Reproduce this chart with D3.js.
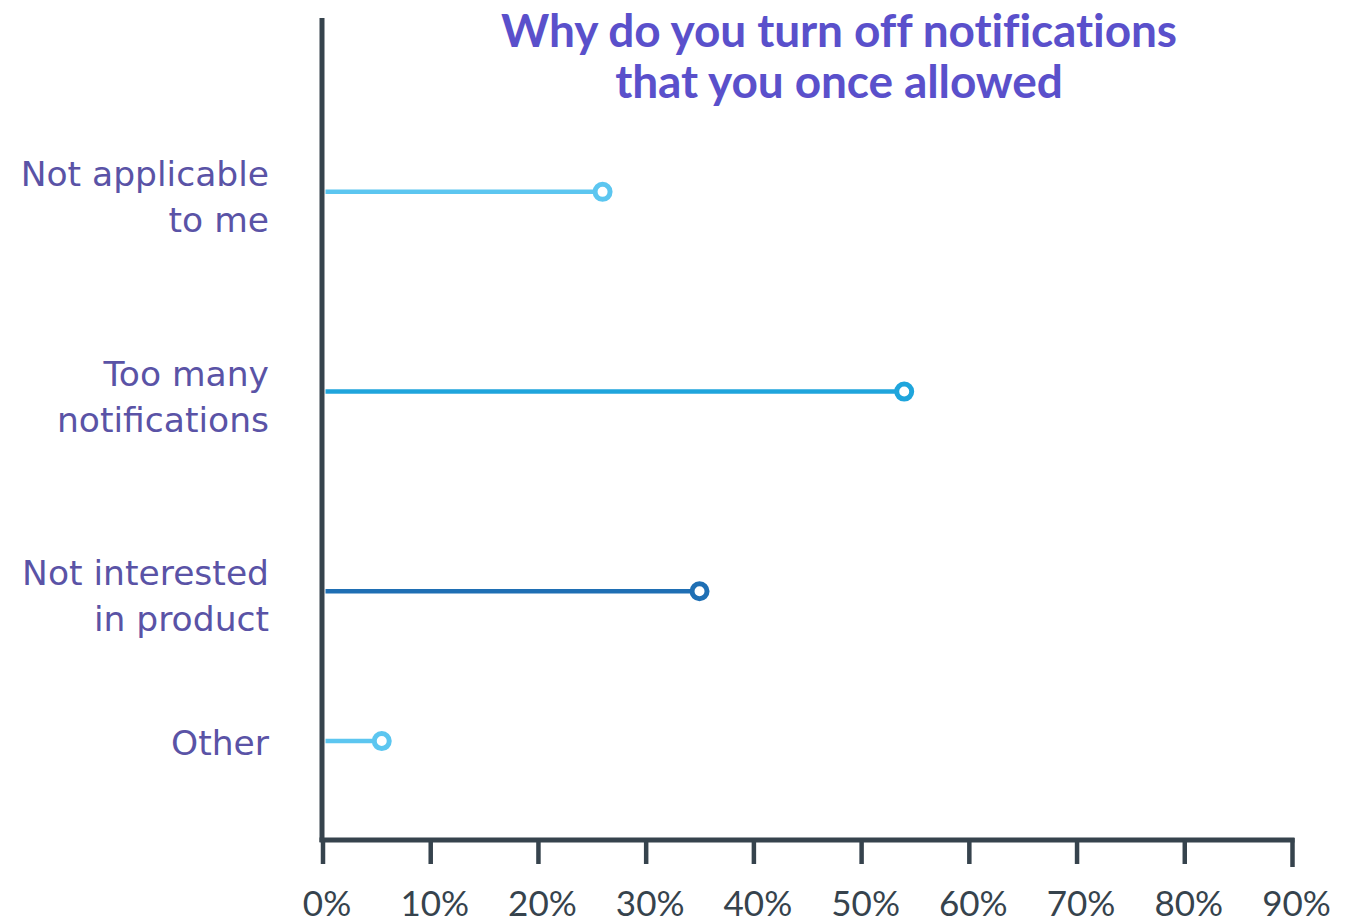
<!DOCTYPE html>
<html>
<head>
<meta charset="utf-8">
<script src="https://cdn.jsdelivr.net/npm/d3@7"></script>
<style>
  html, body { margin: 0; padding: 0; background: #ffffff; }
  svg { display: block; font-family: Lato, "Open Sans", sans-serif; }
</style>
</head>
<body>
<svg id="chart" width="1356" height="924"></svg>
<script>
// Survey answers, top to bottom
const categories = ["Not applicable to me", "Too many notifications", "Not interested in product", "Other"];
const labelLines = [["Not applicable", "to me"], ["Too many", "notifications"], ["Not interested", "in product"], ["Other"]];
const values = [26, 54, 35, 5.5];           // share of respondents, %
const tickValues = [0, 10, 20, 30, 40, 50, 60, 70, 80, 90];
const titleLines = ["Why do you turn off notifications", "that you once allowed"];

// Styling
const seriesColors = ["#5cc6f0", "#1fa5dc", "#1f6fb4", "#5cc6f0"];
const axisColor = "#36434d";
const labelColor = "#5a53a6";
const titleColor = "#5a50cb";
const labelFont = "'DejaVu Sans', 'Open Sans', sans-serif";
const tickFont = "Lato, 'Open Sans', sans-serif";

const svg = d3.select("#chart");
const plot = { left: 322.5, right: 1292, top: 18, bottom: 840 };

// Horizontal value scale
const x = d3.scaleLinear().domain([0, 90]).range([plot.left, plot.right]);

// Each row gets vertical room proportional to the number of lines in its label
const slotStart = [];
let acc = 0;
labelLines.forEach(l => { slotStart.push(acc); acc += l.length; });
const rowCenter = labelLines.map((l, i) => slotStart[i] + l.length / 2);
const y = d3.scaleLinear().domain([0, acc]).range([92, 791]);

// Title
const title = svg.append("text")
  .attr("x", 839)
  .attr("y", 47)
  .attr("text-anchor", "middle")
  .attr("fill", titleColor)
  .attr("font-weight", 700)
  .attr("font-size", 46)
  .style("letter-spacing", "-0.1px");
title.selectAll("tspan").data(titleLines).join("tspan")
  .attr("x", 839)
  .attr("dy", (d, i) => i === 0 ? 0 : 51)
  .text(d => d);

// Lollipop stems and heads
const rows = categories.map((c, i) => ({ c, v: values[i], lines: labelLines[i], cy: y(rowCenter[i]), color: seriesColors[i] }));

svg.append("g").selectAll("line").data(rows).join("line")
  .attr("x1", x(0) + 3)
  .attr("x2", d => x(d.v))
  .attr("y1", d => d.cy)
  .attr("y2", d => d.cy)
  .attr("stroke", d => d.color)
  .attr("stroke-width", 4.5);

svg.append("g").selectAll("circle").data(rows).join("circle")
  .attr("cx", d => x(d.v))
  .attr("cy", d => d.cy)
  .attr("r", 7.5)
  .attr("fill", "#ffffff")
  .attr("stroke", d => d.color)
  .attr("stroke-width", 5);

// Category labels
const labels = svg.append("g").selectAll("text").data(rows).join("text")
  .attr("x", 269)
  .attr("y", d => d.cy + 14 - (d.lines.length - 1) * 20)
  .attr("text-anchor", "end")
  .attr("fill", labelColor)
  .attr("font-family", labelFont)
  .attr("font-size", 34.5);
labels.selectAll("tspan").data(d => d.lines).join("tspan")
  .attr("x", 269)
  .attr("dy", (d, i) => i === 0 ? 0 : 46)
  .text(d => d);

// Vertical axis line
svg.append("line")
  .attr("x1", plot.left - 0.5).attr("x2", plot.left - 0.5)
  .attr("y1", plot.top).attr("y2", plot.bottom + 2)
  .attr("stroke", axisColor)
  .attr("stroke-width", 5);

// Horizontal axis
const xAxis = d3.axisBottom(x)
  .tickValues(tickValues)
  .tickFormat(d => d + "%")
  .tickSize(24)
  .tickSizeOuter(0);

const gx = svg.append("g")
  .attr("transform", `translate(0,${plot.bottom})`)
  .call(xAxis);

gx.select(".domain")
  .attr("stroke", axisColor)
  .attr("stroke-width", 5)
  .attr("d", `M${plot.left - 3},0H${plot.right + 2.5}`);
gx.selectAll(".tick line")
  .attr("stroke", axisColor)
  .attr("stroke-width", 4.5);
gx.selectAll(".tick line").filter(d => d === 90).attr("y1", -2).attr("y2", 27);
gx.selectAll(".tick text")
  .attr("fill", axisColor)
  .attr("font-size", 35)
  .attr("font-family", tickFont)
  .attr("y", 76)
  .attr("dy", 0)
  .attr("dx", 4);
</script>
</body>
</html>
